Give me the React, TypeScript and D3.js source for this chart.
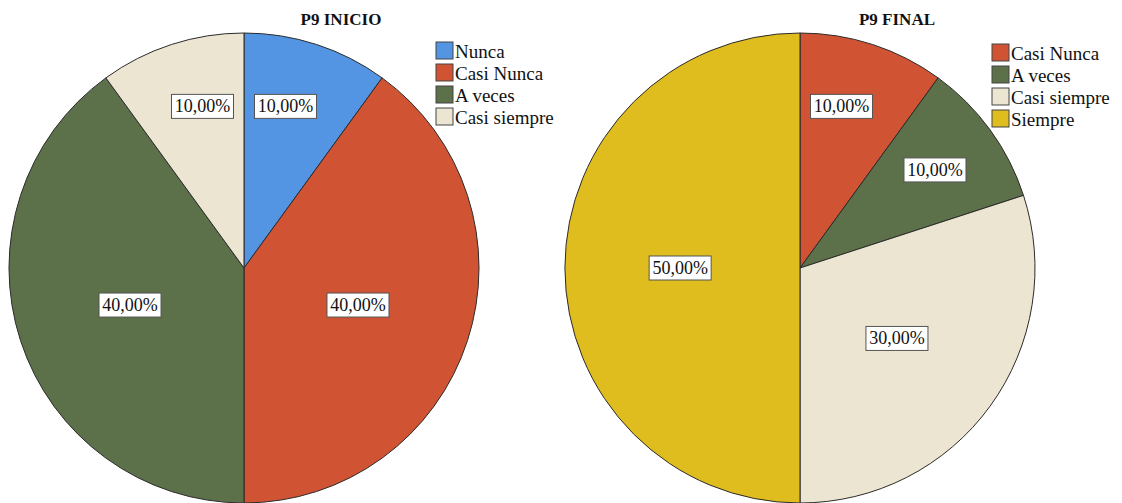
import React from "react";
import * as d3 from "d3";

// Respuestas P9 (porcentaje de participantes)
const inicioCategories = ["Nunca", "Casi Nunca", "A veces", "Casi siempre"];
const inicioValues = [10, 40, 40, 10];

const finalCategories = ["Casi Nunca", "A veces", "Casi siempre", "Siempre"];
const finalValues = [10, 10, 30, 50];

const chartTitles = ["P9 INICIO", "P9 FINAL"];

const categoryColors: Record<string, string> = {
  "Nunca": "#5394e3",
  "Casi Nunca": "#d05433",
  "A veces": "#5c714a",
  "Casi siempre": "#ebe5d1",
  "Siempre": "#e0bd1f",
};

const W = 1122;
const H = 503;
const R = 235;
const CY = 268;
const FONT = "Liberation Serif, Times New Roman, DejaVu Serif, serif";

const fmt = (v: number) => v.toFixed(2).replace(".", ",") + "%";

function Pie({ cx, legendTop, title, categories, values }: { cx: number; legendTop: number; title: string; categories: string[]; values: number[] }) {
  const total = d3.sum(values);
  const pie = d3.pie<number>().sort(null).value((d) => d);
  const arcs = pie(values);
  const arc = d3.arc<d3.PieArcDatum<number>>().innerRadius(0).outerRadius(R);
  const color = d3.scaleOrdinal<string, string>().domain(categories).range(categories.map((c) => categoryColors[c]));
  const legendY = d3.scaleBand<string>().domain(categories).range([legendTop, legendTop + 22 * categories.length]);

  return (
    <g style={{ fontFamily: FONT }}>
      <text x={cx + 97} y={25} textAnchor="middle" fontWeight="bold" fontSize={17} fill="#111">
        {title}
      </text>
      <g transform={`translate(${cx},${CY})`}>
        {arcs.map((a, i) => (
          <path key={i} d={arc(a) || ""} fill={color(categories[i])} stroke="#2b2b2b" strokeWidth={1} />
        ))}
        {arcs.map((a, i) => {
          const share = a.data / total;
          const span = a.endAngle - a.startAngle;
          // small wedges: label sits a bit nearer the edge closest to 12 o'clock
          const nearTop = a.startAngle < 0.01 ? 0.4 : a.endAngle > 2 * Math.PI - 0.01 ? 0.6 : 0.5;
          const ang = share <= 0.15 ? a.startAngle + span * nearTop : (a.startAngle + a.endAngle) / 2;
          const lr = R * (share <= 0.15 ? 0.71 : 0.51);
          const x = lr * Math.sin(ang);
          const y = -lr * Math.cos(ang);
          const bw = 62;
          const bh = 24;
          return (
            <g key={"l" + i} transform={`translate(${x},${y})`}>
              <rect x={-bw / 2} y={-bh / 2} width={bw} height={bh} fill="#fff" stroke="#555" strokeWidth={1} />
              <text x={0} y={6} textAnchor="middle" fontSize={18} fill="#111">
                {fmt(a.data)}
              </text>
            </g>
          );
        })}
      </g>
      <g transform={`translate(${cx + 192},0)`}>
        {categories.map((c) => (
          <g key={c} transform={`translate(0,${legendY(c)})`}>
            <rect x={0} y={0} width={17} height={17} fill={color(c)} stroke="#444" strokeWidth={1} />
            <text x={19} y={16} fontSize={19} fill="#111">
              {c}
            </text>
          </g>
        ))}
      </g>
    </g>
  );
}

export default function App() {
  return (
    <svg width={W} height={H} style={{ position: "absolute", left: 0, top: 0, background: "#fff" }}>
      <rect width={W} height={H} fill="#fff" />
      <Pie cx={244} legendTop={42} title={chartTitles[0]} categories={inicioCategories} values={inicioValues} />
      <Pie cx={800} legendTop={44} title={chartTitles[1]} categories={finalCategories} values={finalValues} />
    </svg>
  );
}
